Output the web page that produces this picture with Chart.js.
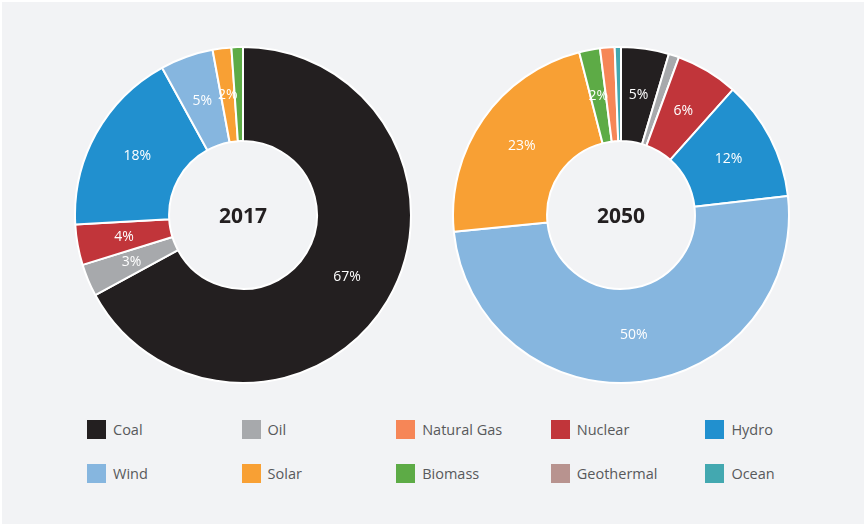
<!DOCTYPE html>
<html>
<head>
<meta charset="utf-8">
<script src="https://cdn.jsdelivr.net/npm/chart.js@4"></script>
<style>
  body { margin: 0; background: #fff; }
  #panel { position: absolute; left: 2px; top: 2px; width: 862px; height: 522px; background: #f2f3f5; }
  .pie { position: absolute; top: 46px; width: 338px; height: 338px; }
  #legend { position: absolute; left: 87px; top: 420px; display: grid; grid-template-columns: repeat(5, 154.6px); row-gap: 25px; font-family: 'Open Sans', sans-serif; font-size: 14.5px; color: #58595b; }
  .item { display: flex; align-items: center; height: 19px; }
  .box { width: 19px; height: 19px; margin-right: 7px; }
</style>
</head>
<body>
<div id="panel"></div>
<div class="pie" style="left:74px"><canvas id="chart2017"></canvas></div>
<div class="pie" style="left:452px"><canvas id="chart2050"></canvas></div>
<div id="legend"></div>
<script>
'use strict';

// slice order as drawn clockwise from the top
let categories = ['Coal', 'Oil', 'Nuclear', 'Hydro', 'Wind', 'Solar', 'Biomass', 'Natural Gas', 'Geothermal', 'Ocean'];
let values2017 = [67.1, 3.1, 3.9, 17.9, 5.1, 1.8, 1.1, 0, 0, 0];
let values2050 = [4.6, 1.0, 6.0, 11.6, 50.2, 22.6, 2.0, 1.4, 0, 0.6];
let colors = ['#231f20', '#a7a9ac', '#c1353a', '#2190cf', '#86b6df', '#f8a034', '#5dab46', '#f68657', '#b8938f', '#43a8b0'];

// legend reads in a different order than the slices
let legendOrder = ['Coal', 'Oil', 'Natural Gas', 'Nuclear', 'Hydro', 'Wind', 'Solar', 'Biomass', 'Geothermal', 'Ocean'];

let sliceLabels = {
  id: 'sliceLabels',
  afterDatasetsDraw(chart){
    let ctx = chart.ctx;
    let data = chart.data.datasets[0].data;
    let arcs = chart.getDatasetMeta(0).data;
    ctx.save();
    ctx.fillStyle = '#ffffff';
    ctx.font = '14px "Open Sans", sans-serif';
    ctx.textAlign = 'center';
    ctx.textBaseline = 'middle';
    for (let i = 0; i < arcs.length; i++){
      let pct = Math.round(data[i]);
      if (pct < 2) continue;
      let pos = arcs[i].tooltipPosition();
      ctx.fillText(pct + '%', pos.x, pos.y);
    }
    // year in the hole
    let area = chart.chartArea;
    ctx.fillStyle = '#231f20';
    ctx.font = 'bold 21px "Open Sans", sans-serif';
    ctx.fillText(chart.options.plugins.centerText, (area.left + area.right) / 2, (area.top + area.bottom) / 2 + 2);
    ctx.restore();
  }
};

function makeChart(id, values, year){
  let ctx = document.getElementById(id).getContext('2d');
  return new Chart(ctx, {
    type: 'doughnut',
    data: {
      labels: categories,
      datasets: [{
        data: values,
        backgroundColor: colors,
        borderColor: '#ffffff',
        borderWidth: 2
      }]
    },
    options: {
      responsive: true,
      maintainAspectRatio: false,
      animation: false,
      cutout: '44%',
      layout: { padding: 0 },
      plugins: {
        legend: { display: false },
        tooltip: { enabled: false },
        centerText: year
      }
    },
    plugins: [sliceLabels]
  });
}

makeChart('chart2017', values2017, '2017');
makeChart('chart2050', values2050, '2050');

let legend = document.getElementById('legend');
for (let i = 0; i < legendOrder.length; i++){
  let name = legendOrder[i];
  let item = document.createElement('div');
  item.className = 'item';
  let box = document.createElement('span');
  box.className = 'box';
  box.style.background = colors[categories.indexOf(name)];
  let text = document.createElement('span');
  text.textContent = name;
  item.appendChild(box);
  item.appendChild(text);
  legend.appendChild(item);
}
</script>
</body>
</html>
